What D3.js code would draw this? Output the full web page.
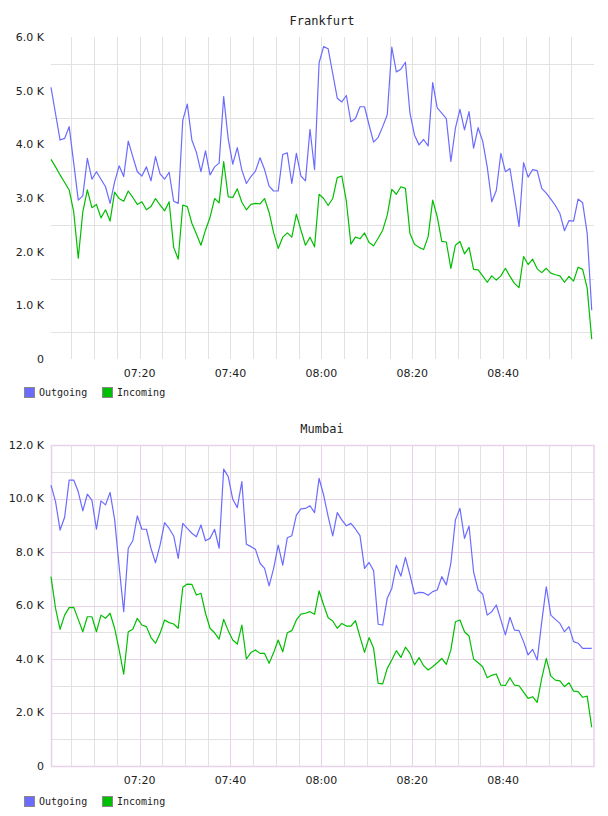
<!DOCTYPE html>
<html>
<head>
<meta charset="utf-8">
<script src="https://cdn.jsdelivr.net/npm/d3@7"></script>
<style>
  body { margin: 0; background: #fff; }
  svg { display: block; }
  .title { font-family: "DejaVu Sans Mono", monospace; font-size: 12px; fill: #222; }
  .tick-label { font-family: "DejaVu Sans", sans-serif; font-size: 11px; fill: #222; }
  .legend-label { font-family: "DejaVu Sans Mono", monospace; font-size: 10px; fill: #222; }
</style>
</head>
<body>
<div id="chart"></div>
<script>
// Frankfurt, K por minuto (07:00:30 .. 08:59:30)
const frankfurtOutgoing = [
  5.06, 4.57, 4.08, 4.11, 4.33, 3.65, 2.96, 3.04, 3.74, 3.35,
  3.49, 3.35, 3.21, 2.90, 3.30, 3.60, 3.40, 4.06, 3.77, 3.49,
  3.41, 3.58, 3.32, 3.77, 3.45, 3.35, 3.48, 2.94, 2.90, 4.45,
  4.75, 4.08, 3.85, 3.49, 3.88, 3.43, 3.58, 3.65, 4.89, 4.10,
  3.63, 3.94, 3.52, 3.27, 3.40, 3.50, 3.75, 3.53, 3.22, 3.13,
  3.13, 3.81, 3.84, 3.27, 3.83, 3.41, 3.32, 4.28, 3.53, 5.52,
  5.82, 5.78, 5.32, 4.86, 4.79, 4.91, 4.42, 4.48, 4.70, 4.70,
  4.36, 4.04, 4.13, 4.33, 4.55, 5.81, 5.35, 5.40, 5.53, 4.58,
  4.17, 3.99, 4.09, 3.97, 5.15, 4.68, 4.58, 4.48, 3.68, 4.30,
  4.65, 4.27, 4.61, 3.93, 4.31, 4.06, 3.58, 2.93, 3.14, 3.83,
  3.49, 3.55, 3.02, 2.47, 3.66, 3.39, 3.53, 3.51, 3.18, 3.09,
  2.98, 2.86, 2.71, 2.39, 2.58, 2.57, 2.98, 2.91, 2.34, 0.91
];
const frankfurtIncoming = [
  3.72, 3.58, 3.43, 3.29, 3.15, 2.74, 1.88, 2.74, 3.15, 2.82,
  2.88, 2.63, 2.78, 2.57, 3.11, 2.99, 2.94, 3.13, 3.01, 2.88,
  2.93, 2.78, 2.84, 2.99, 2.87, 2.76, 2.93, 2.08, 1.86, 2.87,
  2.84, 2.53, 2.33, 2.12, 2.40, 2.64, 2.99, 2.91, 3.68, 3.02,
  3.01, 3.17, 2.92, 2.78, 2.88, 2.90, 2.89, 2.99, 2.73, 2.35,
  2.06, 2.27, 2.35, 2.27, 2.70, 2.40, 2.12, 2.27, 2.09, 3.07,
  2.99, 2.86, 2.99, 3.38, 3.41, 2.94, 2.14, 2.27, 2.24, 2.35,
  2.17, 2.11, 2.25, 2.40, 2.68, 3.16, 3.07, 3.21, 3.18, 2.34,
  2.14, 2.08, 2.04, 2.28, 2.96, 2.65, 2.19, 2.18, 1.69, 2.12,
  2.19, 1.96, 2.08, 1.67, 1.66, 1.55, 1.43, 1.55, 1.47, 1.55,
  1.69, 1.54, 1.41, 1.33, 1.91, 1.76, 1.86, 1.68, 1.61, 1.69,
  1.60, 1.57, 1.55, 1.43, 1.54, 1.45, 1.71, 1.67, 1.32, 0.37
];
// Mumbai
const mumbaiOutgoing = [
  10.50, 9.88, 8.82, 9.30, 10.69, 10.69, 10.25, 9.54, 10.16, 9.94,
  8.85, 9.91, 9.76, 10.23, 9.22, 7.45, 5.77, 8.14, 8.42, 9.35,
  8.85, 8.85, 8.14, 7.60, 8.26, 9.10, 8.88, 8.60, 7.76, 9.07,
  8.88, 8.70, 8.57, 9.01, 8.42, 8.51, 8.85, 8.14, 11.10, 10.82,
  9.97, 9.66, 10.63, 8.29, 8.20, 8.10, 7.58, 7.39, 6.73, 7.39,
  8.26, 7.51, 8.53, 8.61, 9.38, 9.61, 9.63, 9.73, 9.47, 10.75,
  10.13, 9.32, 8.60, 9.47, 9.20, 8.98, 9.07, 8.86, 8.61, 7.39,
  7.61, 7.30, 5.30, 5.27, 6.27, 6.64, 7.51, 7.10, 7.80, 7.14,
  6.43, 6.49, 6.48, 6.38, 6.52, 6.58, 7.08, 6.77, 7.58, 9.20,
  9.63, 8.51, 8.97, 7.26, 6.58, 6.43, 5.64, 5.77, 6.02, 5.46,
  4.90, 5.56, 5.08, 5.06, 4.65, 4.15, 4.36, 3.96, 5.39, 6.70,
  5.64, 5.48, 5.33, 5.02, 5.21, 4.65, 4.59, 4.40, 4.40, 4.40
];
const mumbaiIncoming = [
  7.08, 5.89, 5.11, 5.64, 5.92, 5.93, 5.48, 5.02, 5.58, 5.58,
  5.02, 5.64, 5.52, 5.71, 5.15, 4.34, 3.43, 5.02, 5.11, 5.52,
  5.27, 5.21, 4.80, 4.59, 4.96, 5.46, 5.36, 5.31, 5.15, 6.68,
  6.80, 6.79, 6.39, 6.46, 5.71, 5.15, 4.98, 4.74, 5.48, 5.06,
  4.71, 4.56, 5.27, 4.00, 4.24, 4.34, 4.21, 4.21, 3.84, 4.24,
  4.71, 4.27, 4.98, 5.06, 5.46, 5.68, 5.71, 5.77, 5.67, 6.55,
  6.02, 5.54, 5.42, 5.15, 5.33, 5.23, 5.23, 5.43, 4.83, 4.25,
  4.80, 4.40, 3.09, 3.07, 3.65, 3.96, 4.31, 4.06, 4.44, 4.21,
  3.78, 4.05, 3.75, 3.59, 3.71, 3.86, 4.02, 3.80, 4.34, 5.39,
  5.46, 5.02, 4.86, 4.00, 3.86, 3.71, 3.30, 3.39, 3.44, 3.02,
  3.01, 3.30, 3.02, 3.00, 2.76, 2.53, 2.59, 2.38, 3.28, 4.02,
  3.36, 3.21, 3.18, 2.97, 3.11, 2.80, 2.78, 2.57, 2.61, 1.45
];

const seriesNames = ["Outgoing", "Incoming"];
const seriesColors = ["#6b6bff", "#00bf00"];
const timeLabels = ["07:20", "07:40", "08:00", "08:20", "08:40"];

const W = 608, H = 816;
const startTime = new Date(2020, 0, 1, 7, 0, 30);
const endTime = new Date(2020, 0, 1, 9, 0, 0);
const times = d3.range(frankfurtOutgoing.length).map(i => d3.timeMinute.offset(startTime, i));

const svg = d3.select("#chart").append("svg")
  .attr("width", W)
  .attr("height", H);

const panels = [
  { title: "Frankfurt", top: 37, bottom: 359, yMax: 6000, labelStep: 1000, gridStart: 500, gridStep: 1000,
    majorStep: null, pink: false, legendY: 387,
    series: [frankfurtOutgoing, frankfurtIncoming] },
  { title: "Mumbai", top: 445, bottom: 766, yMax: 12000, labelStep: 2000, gridStart: 1000, gridStep: 1000,
    majorStep: 2000, pink: true, legendY: 796,
    series: [mumbaiOutgoing, mumbaiIncoming] }
];

const fmtK = v => v === 0 ? "0" : d3.format(".1f")(v / 1000) + " K";

panels.forEach(p => {
  const g = svg.append("g");
  const x = d3.scaleTime().domain([startTime, endTime]).range([51, 594]);
  const y = d3.scaleLinear().domain([0, p.yMax]).range([p.bottom, p.top]);

  const minorColor = "#e2e2e2";
  const majorColor = "#e8d2ea";

  // líneas verticales cada 5 min
  const fiveMin = x.ticks(d3.timeMinute.every(5)).filter(t => t > startTime && t < endTime);
  g.selectAll(".vgrid")
    .data(fiveMin)
    .join("line")
    .attr("x1", d => Math.round(x(d)) + 0.5)
    .attr("x2", d => Math.round(x(d)) + 0.5)
    .attr("y1", p.top)
    .attr("y2", p.bottom)
    .attr("stroke", d => (p.pink && d.getMinutes() % 20 === 0) ? majorColor : minorColor)
    .attr("stroke-width", 1);

  // líneas horizontales
  const hVals = d3.range(p.gridStart, p.yMax, p.gridStep);
  g.selectAll(".hgrid")
    .data(hVals)
    .join("line")
    .attr("x1", 51)
    .attr("x2", 594)
    .attr("y1", d => Math.round(y(d)) + 0.5)
    .attr("y2", d => Math.round(y(d)) + 0.5)
    .attr("stroke", d => (p.majorStep && d % p.majorStep === 0) ? majorColor : minorColor)
    .attr("stroke-width", 1);

  if (p.pink) {
    g.append("rect")
      .attr("x", 51.5)
      .attr("y", Math.round(p.top) + 0.5)
      .attr("width", 594 - 51.5)
      .attr("height", Math.round(p.bottom) - Math.round(p.top))
      .attr("fill", "none")
      .attr("stroke", majorColor)
      .attr("stroke-width", 1.5);
  }

  // etiquetas eje Y
  g.selectAll(".ylab")
    .data(d3.range(0, p.yMax + 1, p.labelStep))
    .join("text")
    .attr("class", "tick-label")
    .attr("x", 44)
    .attr("y", d => y(d))
    .attr("dy", "0.35em")
    .attr("text-anchor", "end")
    .text(fmtK);

  // etiquetas eje X
  const labelTimes = timeLabels.map(s => {
    const [h, m] = s.split(":").map(Number);
    return new Date(2020, 0, 1, h, m, 0);
  });
  g.selectAll(".xlab")
    .data(labelTimes)
    .join("text")
    .attr("class", "tick-label")
    .attr("x", d => x(d))
    .attr("y", p.bottom + 18)
    .attr("text-anchor", "middle")
    .text(d3.timeFormat("%H:%M"));

  // título
  g.append("text")
    .attr("class", "title")
    .attr("x", 322)
    .attr("y", p.top - 12)
    .attr("text-anchor", "middle")
    .text(p.title);

  // series
  const line = d3.line()
    .x((d, i) => x(times[i]))
    .y(d => y(d * 1000));

  p.series.forEach((s, k) => {
    g.append("path")
      .datum(s)
      .attr("fill", "none")
      .attr("stroke", seriesColors[k])
      .attr("stroke-width", 1.2)
      .attr("stroke-linejoin", "round")
      .attr("d", line);
  });

  // leyenda
  const legendX = [24, 102];
  seriesNames.forEach((name, k) => {
    g.append("rect")
      .attr("x", legendX[k] + 0.5)
      .attr("y", p.legendY + 0.5)
      .attr("width", 10)
      .attr("height", 10)
      .attr("fill", seriesColors[k])
      .attr("stroke", "#888")
      .attr("stroke-width", 1);
    g.append("text")
      .attr("class", "legend-label")
      .attr("x", legendX[k] + 15)
      .attr("y", p.legendY + 9)
      .text(name);
  });
});
</script>
</body>
</html>
